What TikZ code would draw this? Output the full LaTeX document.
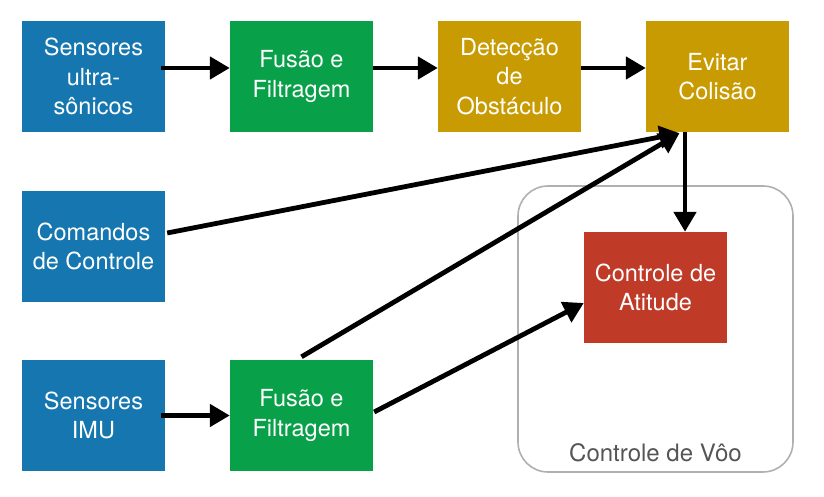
\documentclass[tikz,border=0pt]{standalone}
\usepackage{fontspec}
\setmainfont{TeX Gyre Heros}
\usetikzlibrary{arrows.meta}
\definecolor{cblue}{RGB}{22,119,176}
\definecolor{cgreen}{RGB}{8,160,72}
\definecolor{cgold}{RGB}{200,155,2}
\definecolor{cred}{RGB}{192,58,40}
\definecolor{cframe}{RGB}{176,176,180}
\definecolor{clabel}{RGB}{85,85,85}
\tikzset{
  blk/.style={minimum width=143pt, minimum height=111pt, inner sep=0pt, text=white,
    align=center, font=\fontsize{23.5}{29.5}\selectfont},
  arr/.style={line width=4.8pt, -{Triangle[length=20pt,width=22pt]}},
}
\begin{document}
\begin{tikzpicture}[x=1pt,y=1pt]
\useasboundingbox (0,0) rectangle (824,497);
\node[draw=cframe, line width=1.6pt, rounded corners=30pt, minimum width=275pt, minimum height=286pt, inner sep=0pt] (frame) at (655.5,168) {};
\node[font=\fontsize{24}{28}\selectfont, text=clabel] (flabel) at (655.5,44.5) {Controle de Vôo};
\node[blk, fill=cblue] (us) at (93.5,420.5) {Sensores\\ultra-\\sônicos};
\node[blk, fill=cgreen] (f1) at (301.5,420.5) {Fusão e\\Filtragem};
\node[blk, fill=cgold] (det) at (509.5,420.5) {Detecção\\de\\Obstáculo};
\node[blk, fill=cgold] (ev) at (717.5,420.5) {Evitar\\Colisão};
\node[blk, fill=cblue] (cmd) at (93.5,250.5) {Comandos\\de Controle};
\node[blk, fill=cblue] (imu) at (93.5,81.5) {Sensores\\IMU};
\node[blk, fill=cgreen] (f2) at (301.5,81.5) {Fusão e\\Filtragem};
\node[blk, fill=cred] (att) at (655.5,209.5) {Controle de\\Atitude};
\coordinate (evin) at ([xshift=-38pt,yshift=-1pt]ev.south);
\draw[arr] ([xshift=-4pt,yshift=8.5pt]us.east) -- ([yshift=8.5pt]f1.west);
\draw[arr] ([yshift=8.5pt]f1.east) -- ([yshift=8.5pt]det.west);
\draw[arr] ([yshift=8.5pt]det.east) -- ([yshift=8.5pt]ev.west);
\draw[arr] ([xshift=-4pt]imu.east) -- (f2.west);
\draw[arr] ([xshift=-32.5pt]ev.south) -- ([xshift=-32.5pt]ev.south |- att.north);
\draw[arr] ([xshift=2pt,yshift=13.5pt]cmd.east) -- (evin);
\draw[arr] ([yshift=3pt]f2.north) -- (evin);
\draw[arr] ([xshift=1pt,yshift=3.5pt]f2.east) -- ([yshift=-15.5pt]att.west);
\end{tikzpicture}
\end{document}
